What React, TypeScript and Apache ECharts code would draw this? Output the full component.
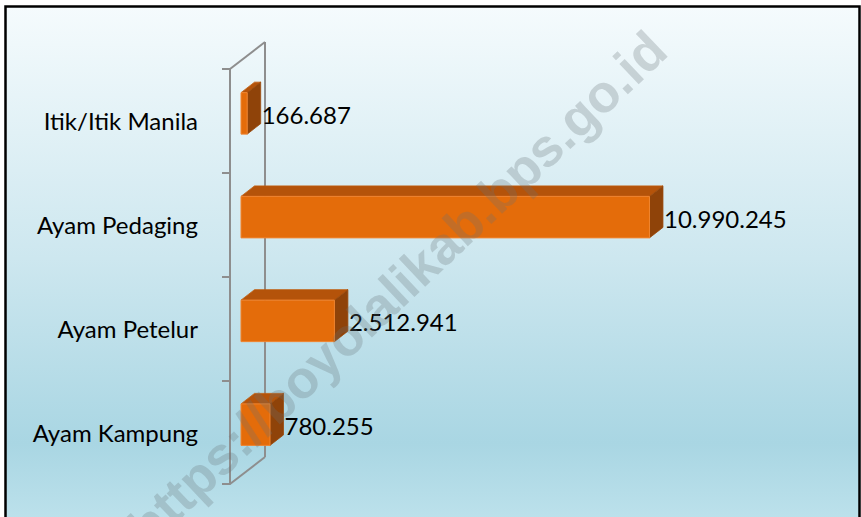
import React, { useEffect, useRef } from "react";
import * as echarts from "echarts";

// ---- data ----
const categories = ["Ayam Kampung", "Ayam Petelur", "Ayam Pedaging", "Itik/Itik Manila"];
const values = [780255, 2512941, 10990245, 166687];
const valueMax = 12000000;

// ---- layout / style ----
const W = 861;
const H = 517;
const GRID_LEFT = 230;
const GRID_TOP = 69;
const GRID_BOTTOM = 33;
const GRID_RIGHT = 185;
const WALL_DX = 35;
const WALL_DY = -27;
const BAR_OFF_X = 11;
const BAR_OFF_Y = -7.5;
const BAR_DX = 13.5;
const BAR_DY = -10.5;
const FONT = "Lato, 'Open Sans', sans-serif";

function fmt(n: number): string {
  return String(Math.round(n)).replace(/\B(?=(\d{3})+(?!\d))/g, ".");
}

export default function App() {
  const ref = useRef<HTMLDivElement>(null);
  useEffect(() => {
    if (!ref.current) return;
    const chart = echarts.init(ref.current, undefined, { renderer: "svg" });
    const gridH = H - GRID_TOP - GRID_BOTTOM;
    const frameColor = "#8e8e8e";
    const option: any = {
      animation: false,
      graphic: [
        {
          type: "rect",
          z: -10,
          silent: true,
          shape: { x: 5.5, y: 6.5, width: 854, height: 560 },
          style: {
            fill: new echarts.graphic.LinearGradient(0, 0, 0, 1, [
              { offset: 0, color: "#f5fbfd" },
              { offset: 0.45, color: "#cde7ef" },
              { offset: 0.78, color: "#a9d6e3" },
              { offset: 1, color: "#c8e8f0" },
            ]),
            stroke: "#000",
            lineWidth: 2.5,
          },
        },
        // back wall vertical line
        {
          type: "line",
          z: 1,
          silent: true,
          shape: {
            x1: GRID_LEFT + WALL_DX,
            y1: GRID_TOP + WALL_DY,
            x2: GRID_LEFT + WALL_DX,
            y2: GRID_TOP + gridH + WALL_DY,
          },
          style: { stroke: frameColor, lineWidth: 2 },
        },
        {
          type: "line",
          z: 1,
          silent: true,
          shape: { x1: GRID_LEFT, y1: GRID_TOP, x2: GRID_LEFT + WALL_DX, y2: GRID_TOP + WALL_DY },
          style: { stroke: frameColor, lineWidth: 2 },
        },
        {
          type: "line",
          z: 1,
          silent: true,
          shape: {
            x1: GRID_LEFT,
            y1: GRID_TOP + gridH,
            x2: GRID_LEFT + WALL_DX,
            y2: GRID_TOP + gridH + WALL_DY,
          },
          style: { stroke: frameColor, lineWidth: 2 },
        },
        // watermark
        {
          type: "text",
          z: 100,
          silent: true,
          x: 397,
          y: 288,
          rotation: (43.5 * Math.PI) / 180,
          style: {
            text: "https://boyolalikab.bps.go.id",
            font: "bold 53px 'Liberation Sans', Arial, sans-serif",
            fill: "rgba(105,115,120,0.27)",
            align: "center",
            verticalAlign: "middle",
          },
        },
      ],
      grid: { left: GRID_LEFT, top: GRID_TOP, bottom: GRID_BOTTOM, right: GRID_RIGHT, containLabel: false },
      xAxis: { type: "value", min: 0, max: valueMax, show: false },
      yAxis: {
        type: "category",
        data: categories,
        boundaryGap: true,
        axisLine: { show: true, lineStyle: { color: frameColor, width: 2 } },
        axisTick: { show: true, length: 8, inside: false, lineStyle: { color: frameColor, width: 2 } },
        axisLabel: { margin: 32, color: "#000", fontSize: 24, fontFamily: FONT },
        splitLine: { show: false },
      },
      series: [
        {
          type: "custom",
          z: 5,
          clip: false,
          encode: { x: 0, y: 1 },
          data: values.map((v, i) => [v, i]),
          renderItem: (params: any, api: any) => {
            const val = api.value(0);
            const idx = api.value(1);
            const p0 = api.coord([0, idx]);
            const p1 = api.coord([val, idx]);
            const band = api.size([0, 1])[1];
            const h = band * 0.4;
            const x0 = p0[0] + BAR_OFF_X;
            const x1 = p1[0] + BAR_OFF_X;
            const yc = p0[1] + BAR_OFF_Y;
            const yt = yc - h / 2;
            const yb = yc + h / 2;
            return {
              type: "group",
              children: [
                {
                  type: "polygon",
                  shape: {
                    points: [
                      [x0, yt],
                      [x1, yt],
                      [x1 + BAR_DX, yt + BAR_DY],
                      [x0 + BAR_DX, yt + BAR_DY],
                    ],
                  },
                  style: { fill: "#b4530a", stroke: "#c05c0c", lineWidth: 0.8 },
                },
                {
                  type: "polygon",
                  shape: {
                    points: [
                      [x1, yt],
                      [x1 + BAR_DX, yt + BAR_DY],
                      [x1 + BAR_DX, yb + BAR_DY],
                      [x1, yb],
                    ],
                  },
                  style: { fill: "#8f4309", stroke: "#9c4a0b", lineWidth: 0.8 },
                },
                {
                  type: "rect",
                  shape: { x: x0, y: yt, width: x1 - x0, height: h },
                  style: { fill: "#e46c0a", stroke: "#f08530", lineWidth: 1 },
                },
                {
                  type: "text",
                  style: {
                    text: fmt(val),
                    x: x1 + BAR_DX + 1,
                    y: yc + 1,
                    fill: "#000",
                    fontSize: 24,
                    fontFamily: FONT,
                    align: "left",
                    verticalAlign: "middle",
                  },
                },
              ],
            };
          },
        },
      ],
    };
    chart.setOption(option);
    return () => chart.dispose();
  }, []);
  return (
    <div
      ref={ref}
      style={{ position: "fixed", left: 0, top: 0, width: W, height: H, background: "#fff" }}
    />
  );
}
